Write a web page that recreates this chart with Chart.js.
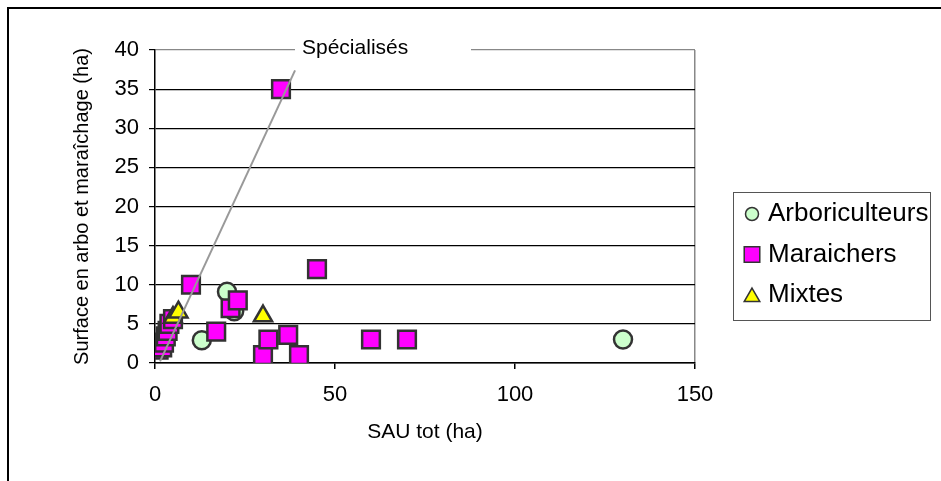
<!DOCTYPE html>
<html lang="fr">
<head>
  <meta charset="UTF-8">
  <title>Surface en arbo et maraîchage</title>
  <script src="https://cdn.jsdelivr.net/npm/chart.js"></script>
  <style>
    body { margin: 0; background: #fff; }
    canvas { display: block; }
  </style>
</head>
<body>
  <canvas id="chart" width="941" height="481"></canvas>

  <script>
    // valeurs (x = SAU tot, y = surface arbo + maraîchage)
    const arboriculteurs = [[13, 2.9], [20, 9.1], [22, 6.6], [130, 3]];
    const maraichers = [
      [1, 1.7], [2, 2], [2.5, 2.6], [3, 3.4], [3.5, 4.1], [4, 5], [5, 5.6],
      [10, 10], [17, 4], [21, 7], [23, 8],
      [30, 1], [31.5, 3], [37, 3.6], [40, 1],
      [45, 12], [60, 3], [70, 3], [35, 35]
    ];
    const mixtes = [[5, 5.8], [6.5, 6.5], [30, 6]];
    const specialises = [[1.4, 0.2], [38.9, 37.4]];

    const xTicks = [0, 50, 100, 150];
    const yTicks = [0, 5, 10, 15, 20, 25, 30, 35, 40];

    const legendItems = [
      { text: 'Arboriculteurs', style: 'circle', fill: '#ccffcc' },
      { text: 'Maraichers', style: 'rect', fill: '#ff00ff' },
      { text: 'Mixtes', style: 'triangle', fill: '#ffff00' }
    ];

    const pts = arr => arr.map(p => ({ x: p[0], y: p[1] }));
    const FONT = 'Arial, "Liberation Sans", sans-serif';

    const decor = {
      id: 'decor',
      beforeDraw(chart) {
        const ctx = chart.ctx;
        ctx.save();
        ctx.fillStyle = '#fff';
        ctx.fillRect(0, 0, chart.width, chart.height);
        ctx.strokeStyle = '#000';
        ctx.lineWidth = 2;
        ctx.strokeRect(8, 8, 1000, 1000);
        ctx.restore();
      },
      afterDraw(chart) {
        const ctx = chart.ctx;
        ctx.save();
        // étiquette de la droite
        ctx.fillStyle = '#fff';
        ctx.fillRect(295, 38, 176, 24);
        ctx.fillStyle = '#000';
        ctx.font = '21px ' + FONT;
        ctx.textBaseline = 'middle';
        ctx.fillText('Spécialisés', 302, 48);

        // légende
        ctx.strokeStyle = '#555';
        ctx.lineWidth = 1;
        ctx.strokeRect(733.5, 192.5, 197, 128);
        ctx.font = '26px ' + FONT;
        legendItems.forEach((it, i) => {
          const y = 214 + i * 40.5;
          ctx.fillStyle = it.fill;
          ctx.strokeStyle = '#333';
          ctx.lineWidth = 1.5;
          Chart.helpers.drawPoint(ctx, {
            pointStyle: it.style,
            radius: it.style === 'rect' ? 11 : (it.style === 'triangle' ? 9 : 6.5),
            borderWidth: 1.5
          }, 752, it.style === 'triangle' ? y + 2 : y);
          ctx.fillStyle = '#000';
          ctx.fillText(it.text, 768, y);
        });
        ctx.restore();
      }
    };

    new Chart(document.getElementById('chart'), {
      type: 'scatter',
      data: {
        datasets: [
          {
            type: 'line',
            label: 'Spécialisés',
            data: pts(specialises),
            borderColor: '#999',
            borderWidth: 2,
            pointRadius: 0,
            fill: false,
            order: 0
          },
          {
            label: 'Mixtes',
            data: pts(mixtes),
            pointStyle: 'triangle',
            pointRadius: 10.5,
            backgroundColor: '#ffff00',
            borderColor: '#333',
            borderWidth: 2.5,
            order: 1
          },
          {
            label: 'Maraichers',
            data: pts(maraichers),
            pointStyle: 'rect',
            pointRadius: 12.5,
            backgroundColor: '#ff00ff',
            borderColor: '#333',
            borderWidth: 2.5,
            order: 2
          },
          {
            label: 'Arboriculteurs',
            data: pts(arboriculteurs),
            pointStyle: 'circle',
            pointRadius: 9,
            backgroundColor: '#ccffcc',
            borderColor: '#333',
            borderWidth: 2.5,
            order: 3
          }
        ]
      },
      options: {
        responsive: false,
        animation: false,
        layout: { padding: { top: 50, right: 246, bottom: 18, left: 0 } },
        plugins: {
          legend: { display: false },
          tooltip: { enabled: false }
        },
        scales: {
          x: {
            type: 'linear',
            min: xTicks[0],
            max: xTicks[xTicks.length - 1],
            afterBuildTicks: s => { s.ticks = xTicks.map(v => ({ value: v })); },
            afterFit: s => { s.height = 100; },
            ticks: { color: '#000', padding: 13, font: { size: 22, family: FONT } },
            grid: {
              color: c => c.tick && c.tick.value === 150 ? '#888' : 'rgba(0,0,0,0)',
              tickColor: '#000',
              tickLength: 6,
              lineWidth: 1.5
            },
            border: { color: '#000', width: 1.5 },
            title: {
              display: true,
              text: 'SAU tot (ha)',
              color: '#000',
              font: { size: 21, family: FONT },
              padding: { bottom: 18 }
            }
          },
          y: {
            type: 'linear',
            min: yTicks[0],
            max: yTicks[yTicks.length - 1],
            afterBuildTicks: s => { s.ticks = yTicks.map(v => ({ value: v })); },
            afterFit: s => { s.width = 155; },
            ticks: { color: '#000', padding: 10, font: { size: 22, family: FONT } },
            grid: {
              color: c => c.tick && c.tick.value === 40 ? '#888' : '#000',
              tickColor: '#000',
              tickLength: 6,
              lineWidth: 1.2
            },
            border: { color: '#000', width: 1.5 },
            title: {
              display: true,
              text: 'Surface en arbo et maraîchage (ha)',
              color: '#000',
              font: { size: 20, family: FONT },
              padding: { top: 70 }
            }
          }
        }
      },
      plugins: [decor]
    });
  </script>
</body>
</html>
